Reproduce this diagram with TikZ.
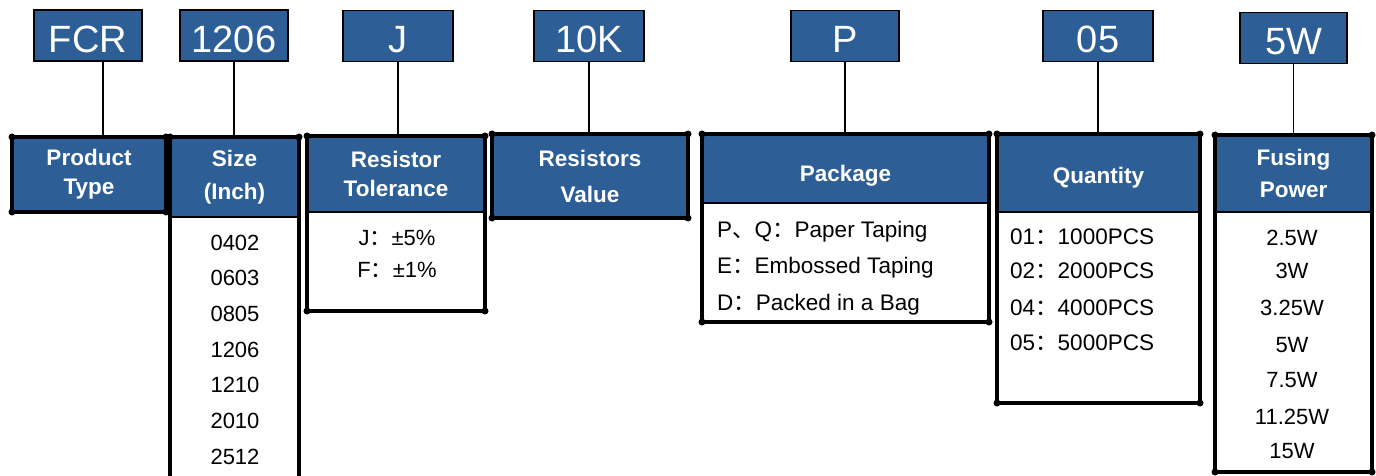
\documentclass[tikz,border=0pt]{standalone}
\usepackage{fontspec}
\setmainfont{Liberation Sans}
\newfontfamily\cjk{Noto Sans CJK SC}
\usetikzlibrary{positioning}
\definecolor{hdblue}{RGB}{45,95,150}
\newcommand{\fcolon}{{\cjk ：}}
\newcommand{\fcomma}{{\cjk 、}}

\begin{document}
\begin{tikzpicture}[x=1pt,y=-1pt,
    code/.style={draw=black,line width=1.5pt,fill=hdblue,text=white,inner sep=0pt,outer sep=0pt,
      minimum height=51pt,text height=34pt,text depth=0pt,font=\fontsize{38}{40}\selectfont},
    head/.style={draw=black,line width=1.5pt,fill=hdblue,text=white,inner sep=0pt,outer sep=0pt,
      anchor=north west,align=center,font=\bfseries\fontsize{22.5}{29}\selectfont},
    frame/.style={draw=black,line width=4.5pt,inner sep=0pt,outer sep=0pt,anchor=north west},
    item/.style={anchor=base,inner sep=0pt,font=\fontsize{22}{25}\selectfont},
    wide/.style={item,anchor=base west,font=\fontsize{22.5}{25}\selectfont},
    link/.style={line width=1.6pt}]
  \useasboundingbox (0,0) rectangle (1376,476);

  \node[code,minimum width=108pt] (cFCR)  at (88,35.5)   {FCR};
  \node[code,minimum width=108pt] (c1206) at (234,35.5)  {1206};
  \node[code,minimum width=110pt] (cJ)    at (398,36)    {J};
  \node[code,minimum width=110pt] (c10K)  at (589,36)    {10K};
  \node[code,minimum width=108pt] (cP)    at (845,36)    {P};
  \node[code,minimum width=110pt] (c05)   at (1098,36)   {05};
  \node[code,minimum width=107pt] (c5W)   at (1293.5,38) {5W};

  \node[head,line width=4.5pt,minimum width=154pt,minimum height=75pt] (hType) at (12,137) {Product\\Type};
  \node[head,minimum width=129pt,minimum height=80pt] (hSize) at (170,137) {Size\\[4pt](Inch)};
  \node[frame,minimum width=129pt,minimum height=345pt] (fSize) at (170,137) {};
  \node[head,minimum width=178pt,minimum height=76pt] (hTol) at (307,136) {Resistor\\Tolerance};
  \node[frame,minimum width=178pt,minimum height=175pt] (fTol) at (307,136) {};
  \node[head,line width=4.5pt,minimum width=196pt,minimum height=84pt] (hVal) at (492,134) {Resistors\\[7pt]Value};
  \node[head,minimum width=287pt,minimum height=69pt,text height=25pt,text depth=0pt] (hPkg) at (702,134) {Package};
  \node[frame,minimum width=287pt,minimum height=188pt] (fPkg) at (702,134) {};
  \node[head,minimum width=203pt,minimum height=78pt,text height=20pt,text depth=0pt] (hQty) at (997,134) {Quantity};
  \node[frame,minimum width=203pt,minimum height=269pt] (fQty) at (997,134) {};
  \node[head,minimum width=157pt,minimum height=77pt] (hFus) at (1215,135) {Fusing\\[3pt]Power};
  \node[frame,minimum width=157pt,minimum height=337pt] (fFus) at (1215,135) {};

  \foreach \n in {hType,fSize,fTol,hVal,fPkg,fQty,fFus}
    \foreach \a in {north west,north east,south west,south east}
      \fill (\n.\a) circle (3.5pt);

  \coordinate (fcrDrop) at ([xshift=15pt]cFCR.south);
  \draw[link] (fcrDrop) -- (fcrDrop |- hType.north);
  \draw[link] (c1206.south) -- (c1206.south |- hSize.north);
  \draw[link] (cJ.south) -- (cJ.south |- hTol.north);
  \draw[link] (c10K.south) -- (c10K.south |- hVal.north);
  \draw[link] (cP.south) -- (cP.south |- hPkg.north);
  \draw[link] (c05.south) -- (c05.south |- hQty.north);
  \draw[link] (c5W.south) -- (c5W.south |- hFus.north);

  \foreach \t [count=\i] in {0402,0603,0805,1206,1210,2010,2512}
    \node[item] (size\i) at (235,214.3+35.7*\i) {\t};

  \node[item] (tol1) at (397,245) {J\fcolon ±5\%};
  \node[item] (tol2) at (397,277) {F\fcolon ±1\%};

  \node[wide] (pkg1) at (717,237) {P\fcomma Q\fcolon Paper Taping};
  \node[wide] (pkg2) at (717,273) {E\fcolon Embossed Taping};
  \node[wide] (pkg3) at (717,310) {D\fcolon Packed in a Bag};

  \node[wide] (qty1) at (1010,244) {01\fcolon 1000PCS};
  \node[wide] (qty2) at (1010,278) {02\fcolon 2000PCS};
  \node[wide] (qty4) at (1010,315) {04\fcolon 4000PCS};
  \node[wide] (qty5) at (1010,350) {05\fcolon 5000PCS};

  \foreach \t/\y [count=\i] in {2.5W/245,3W/278,3.25W/315,5W/352,7.5W/387,11.25W/424,15W/458}
    \node[item] (fus\i) at (1292,\y) {\t};
\end{tikzpicture}
\end{document}
